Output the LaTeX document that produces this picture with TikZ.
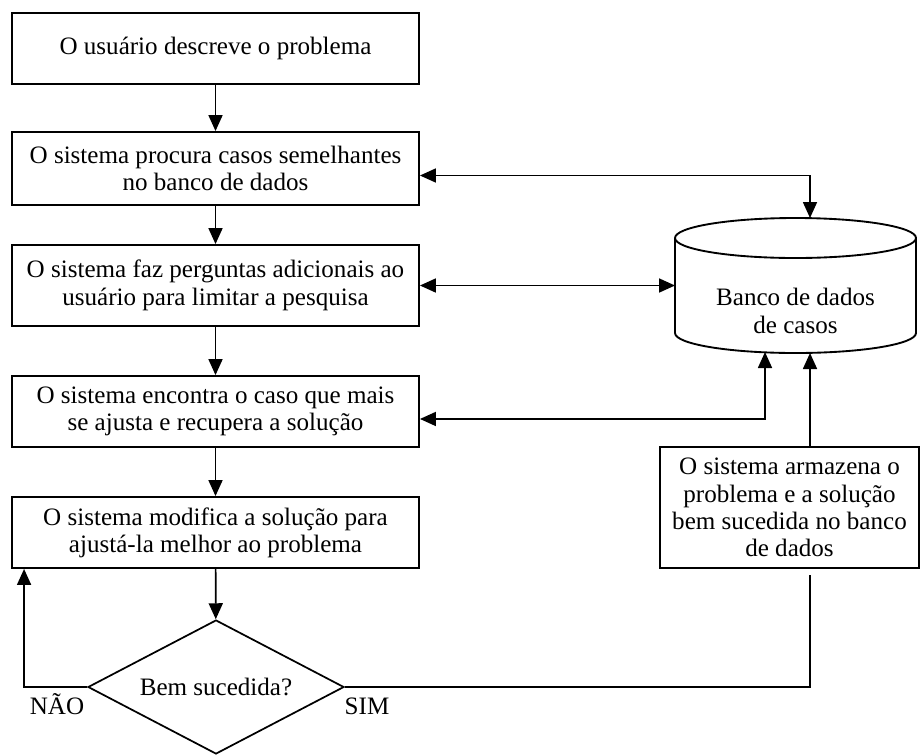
\documentclass[tikz,border=0pt]{standalone}
\usepackage{fontspec}
\setmainfont{Liberation Serif}
\usetikzlibrary{arrows.meta,shapes.geometric}
\begin{document}
\begin{tikzpicture}[x=0.75pt,y=-0.75pt,
  every node/.style={font=\fontsize{18.8}{20.5}\selectfont,align=center},
  ln/.style={line width=1.3pt},
  box/.style={draw,line width=1.4pt,inner sep=0pt,minimum width=305.25pt},
  arr/.style={ln,-{Triangle[length=12pt,width=10.5pt]}},
  dbl/.style={ln,{Triangle[length=12pt,width=10.5pt]}-{Triangle[length=12pt,width=10.5pt]}},
]
\useasboundingbox (0,0) rectangle (920,754);

% process boxes
\node[box,minimum height=53.25pt] (b1) at (215.5,48.5) {O usuário descreve o problema};
\node[box,minimum height=54.75pt] (b2) at (215.5,168.5) {O sistema procura casos semelhantes\\no banco de dados};
\node[box,minimum height=60.75pt] (b3) at (215.5,285.5) {O sistema faz perguntas adicionais ao\\usuário para limitar a pesquisa};
\node[box,minimum height=53.25pt] (b4) at (215.5,411.5) {O sistema encontra o caso que mais\\se ajusta e recupera a solução};
\node[box,minimum height=53.25pt] (b5) at (215.5,532.5) {O sistema modifica a solução para\\ajustá-la melhor ao problema};

% decision
\node[draw,ln,diamond,inner sep=0pt,aspect=1.91,minimum width=192pt,minimum height=100.5pt] (d) at (216,687) {Bem sucedida?};
\node[anchor=base] (nao) at (57,714) {NÃO};
\node[anchor=base] (sim) at (367,714) {SIM};

% store box
\node[draw,line width=1.4pt,inner sep=0pt,minimum width=194.25pt,minimum height=90.75pt] (s) at (789.5,507.5)
  {O sistema armazena o\\problema e a solução\\bem sucedida no banco\\de dados};

% database cylinder
\draw[line width=1.4pt] (675,238) -- (675,333) arc[start angle=180,end angle=360,x radius=90.375pt,y radius=15pt] -- (916,238);
\draw[line width=1.4pt] (795.5,238) ellipse [x radius=90.375pt, y radius=15pt];
\node (db) at (795.5,311) {Banco de dados\\de casos};
\coordinate (dbtop) at (810,218);
\coordinate (dbleft) at (675,285.5);
\coordinate (dbb1) at (765,352);
\coordinate (dbb2) at (810,353);
\coordinate (sbot) at (810,575);

% connectors
\draw[arr] (b1) -- (b2);
\draw[arr] (b2) -- (b3);
\draw[arr] (b3) -- (b4);
\draw[arr] (b4) -- (b5);
\draw[arr] (b5) -- (d);
\draw[dbl] ([yshift=-5.25pt]b2.east) -| (dbtop);
\draw[dbl] (b3.east) -- (dbleft);
\draw[dbl] (dbb1) |- ([yshift=-5.6pt]b4.east);
\draw[arr] (s.north -| dbb2) -- (dbb2);
\draw[ln] (d.east) -| (sbot);
\draw[arr] (d.west) -| ([xshift=9.75pt]b5.south west);
\end{tikzpicture}
\end{document}
